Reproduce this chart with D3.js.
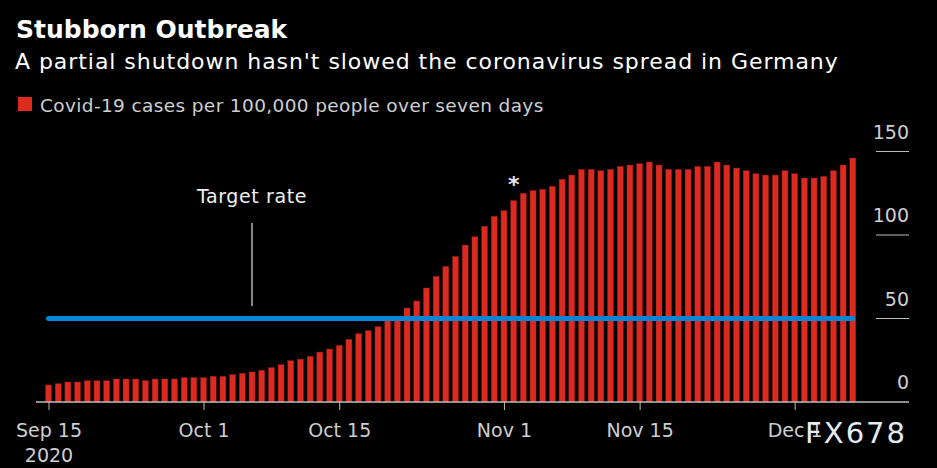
<!DOCTYPE html>
<html>
<head>
<meta charset="utf-8">
<script src="https://cdn.jsdelivr.net/npm/d3@7"></script>
<style>
  html, body { margin: 0; padding: 0; background: #000; }
  svg { display: block; }
  text { font-family: "DejaVu Sans", sans-serif; }
</style>
</head>
<body>
<svg id="chart" width="937" height="468"></svg>
<script>
// ---- data ----
const startDate = "2020-09-15";
const endDate = "2020-12-07";
const cases = [
  10.2, 11.0, 12.0, 12.0, 12.8, 12.8, 12.8, 13.8, 13.8, 13.8,
  12.8, 13.8, 13.8, 13.8, 14.6, 14.6, 14.6, 15.4, 15.4, 16.4,
  17.2, 18.0, 19.0, 20.6, 22.4, 24.8, 25.7, 27.4, 29.9, 31.7,
  33.9, 37.5, 40.9, 42.7, 45.1, 48.5, 49.0, 56.3, 60.5, 68.3,
  75.3, 81.2, 87.2, 94.0, 99.0, 105.2, 111.2, 114.6, 120.6, 125.0,
  126.6, 127.4, 129.2, 133.4, 135.9, 139.3, 139.3, 138.5, 139.3, 141.1,
  141.9, 142.7, 143.7, 141.9, 139.3, 139.3, 139.3, 141.1, 141.1, 143.7,
  141.9, 140.1, 138.5, 136.7, 135.9, 135.9, 138.5, 136.7, 134.1, 134.1,
  135.1, 138.5, 141.9, 146.1
];
const yTicks = [0, 50, 100, 150];
const xTickDates = ["2020-09-15", "2020-10-01", "2020-10-15", "2020-11-01", "2020-11-15", "2020-12-01"];
const xTickLabels = ["Sep 15", "Oct 1", "Oct 15", "Nov 1", "Nov 15", "Dec 1"];
const targetRate = 50;
const targetLabel = "Target rate";
const targetLabelDate = "2020-10-06";
const shutdownDate = "2020-11-02";
const title = "Stubborn Outbreak";
const subtitle = "A partial shutdown hasn't slowed the coronavirus spread in Germany";
const legendLabel = "Covid-19 cases per 100,000 people over seven days";
const watermark = "FX678";

// ---- setup ----
const parse = d3.utcParse("%Y-%m-%d");
const dates = d3.utcDay.range(parse(startDate), d3.utcDay.offset(parse(endDate), 1));
const data = dates.map((d, i) => ({ date: d, value: cases[i] }));

const svg = d3.select("#chart");
svg.append("rect").attr("width", 937).attr("height", 468).attr("fill", "#000");

const x = d3.scaleUtc().domain([parse(startDate), parse(endDate)]).range([48.5, 852.8]);
const y = d3.scaleLinear().domain([0, 150]).range([402, 151.5]);
const barW = 6;

// titles
svg.append("text").attr("x", 16).attr("y", 38).attr("fill", "#fff")
  .attr("font-size", 25).attr("font-weight", "bold").text(title);
svg.append("text").attr("x", 15).attr("y", 69).attr("fill", "#fff")
  .attr("font-size", 22).attr("letter-spacing", 0.95).text(subtitle);

// legend
svg.append("rect").attr("x", 18).attr("y", 97).attr("width", 14).attr("height", 14).attr("fill", "#dc2a20");
svg.append("text").attr("x", 40).attr("y", 111.5).attr("fill", "#cfcfcf")
  .attr("font-size", 18.5).attr("letter-spacing", 0.37).text(legendLabel);

// y gridline stubs + labels
const yg = svg.append("g");
yTicks.forEach(t => {
  if (t > 0) {
    yg.append("line").attr("x1", 876).attr("x2", 909).attr("y1", y(t)).attr("y2", y(t))
      .attr("stroke", "#bdbdbd").attr("stroke-width", 1);
  }
  yg.append("text").attr("x", 909).attr("y", y(t) - 13).attr("text-anchor", "end")
    .attr("fill", "#cfcfcf").attr("font-size", 19).text(t);
});

// bars
svg.append("g").selectAll("rect").data(data).join("rect")
  .attr("x", d => x(d.date) - barW / 2)
  .attr("width", barW)
  .attr("y", d => y(d.value))
  .attr("height", d => y(0) - y(d.value))
  .attr("fill", "#dc2a20")
  .attr("stroke", "#8a1a14").attr("stroke-width", 0.4);

// x axis
const xAxis = d3.axisBottom(x)
  .tickValues(xTickDates.map(parse))
  .tickFormat((d, i) => xTickLabels[i])
  .tickSize(8)
  .tickPadding(14);
const ax = svg.append("g").attr("transform", `translate(0,${y(0)})`).call(xAxis);
ax.select(".domain").remove();
ax.selectAll(".tick line").attr("stroke", "#bdbdbd");
ax.selectAll(".tick text").attr("fill", "#cfcfcf").attr("font-size", 19)
  .attr("font-family", "DejaVu Sans, sans-serif");
ax.select(".tick text").each(function() {
  const t = d3.select(this);
  t.append("tspan").attr("x", 0).attr("dy", "1.3em").text("2020");
});
svg.append("line").attr("x1", 36).attr("x2", 909).attr("y1", y(0)).attr("y2", y(0))
  .attr("stroke", "#bdbdbd").attr("stroke-width", 1.5);

// target line
svg.append("line")
  .attr("x1", x(parse(startDate))).attr("x2", x(parse(endDate)))
  .attr("y1", y(targetRate)).attr("y2", y(targetRate))
  .attr("stroke", "#0985d6").attr("stroke-width", 5).attr("stroke-linecap", "round");

// annotation
const tx = x(parse(targetLabelDate));
svg.append("line").attr("x1", tx).attr("x2", tx).attr("y1", 223).attr("y2", 306)
  .attr("stroke", "#e0e0e0").attr("stroke-width", 1.2);
svg.append("text").attr("x", tx).attr("y", 203).attr("text-anchor", "middle")
  .attr("fill", "#f0f0f0").attr("font-size", 19).attr("letter-spacing", 0.6).text(targetLabel);

// shutdown asterisk
const sd = data.find(d => +d.date === +parse(shutdownDate));
svg.append("text").attr("x", x(sd.date)).attr("y", y(sd.value) - 9).attr("text-anchor", "middle")
  .attr("fill", "#e6e6e6").attr("font-size", 22).attr("font-weight", "bold").text("*");

// watermark
svg.append("text").attr("x", 907).attr("y", 443).attr("text-anchor", "end")
  .attr("fill", "#e4ecf4").attr("font-size", 29).attr("letter-spacing", 2)
  .attr("font-family", "DejaVu Sans Condensed, DejaVu Sans, sans-serif").text(watermark);
</script>
</body>
</html>
